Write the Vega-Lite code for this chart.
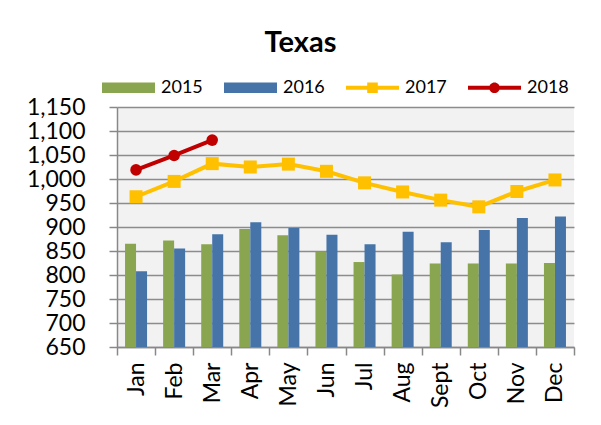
{
  "$schema": "https://vega.github.io/schema/vega-lite/v6.json",
  "width": 457,
  "height": 240,
  "autosize": {"type": "none"},
  "padding": {"left": 117, "top": 107, "right": 27, "bottom": 78},
  "background": "white",
  "title": {"text": "Texas", "fontSize": 29, "font": "Lato", "fontWeight": "bold", "color": "black", "frame": "group", "anchor": "middle", "dx": -45, "offset": 3},
  "config": {"view": {"stroke": null, "fill": "#f2f2f2"}, "font": "Lato"},
  "data": {"values": [
    {"month": "Jan", "year": "2015", "value": 865},
    {"month": "Feb", "year": "2015", "value": 872},
    {"month": "Mar", "year": "2015", "value": 864},
    {"month": "Apr", "year": "2015", "value": 896},
    {"month": "May", "year": "2015", "value": 883},
    {"month": "Jun", "year": "2015", "value": 848},
    {"month": "Jul", "year": "2015", "value": 827},
    {"month": "Aug", "year": "2015", "value": 801},
    {"month": "Sept", "year": "2015", "value": 824},
    {"month": "Oct", "year": "2015", "value": 824},
    {"month": "Nov", "year": "2015", "value": 824},
    {"month": "Dec", "year": "2015", "value": 825},
    {"month": "Jan", "year": "2016", "value": 808},
    {"month": "Feb", "year": "2016", "value": 855},
    {"month": "Mar", "year": "2016", "value": 885},
    {"month": "Apr", "year": "2016", "value": 910},
    {"month": "May", "year": "2016", "value": 898},
    {"month": "Jun", "year": "2016", "value": 884},
    {"month": "Jul", "year": "2016", "value": 864},
    {"month": "Aug", "year": "2016", "value": 890},
    {"month": "Sept", "year": "2016", "value": 868},
    {"month": "Oct", "year": "2016", "value": 894},
    {"month": "Nov", "year": "2016", "value": 919},
    {"month": "Dec", "year": "2016", "value": 922},
    {"month": "Jan", "year": "2017", "value": 963},
    {"month": "Feb", "year": "2017", "value": 995},
    {"month": "Mar", "year": "2017", "value": 1032},
    {"month": "Apr", "year": "2017", "value": 1025},
    {"month": "May", "year": "2017", "value": 1031},
    {"month": "Jun", "year": "2017", "value": 1016},
    {"month": "Jul", "year": "2017", "value": 992},
    {"month": "Aug", "year": "2017", "value": 973},
    {"month": "Sept", "year": "2017", "value": 956},
    {"month": "Oct", "year": "2017", "value": 942},
    {"month": "Nov", "year": "2017", "value": 974},
    {"month": "Dec", "year": "2017", "value": 998},
    {"month": "Jan", "year": "2018", "value": 1019},
    {"month": "Feb", "year": "2018", "value": 1049},
    {"month": "Mar", "year": "2018", "value": 1081}
  ]},
  "encoding": {
    "x": {
      "field": "month", "type": "nominal",
      "sort": ["Jan", "Feb", "Mar", "Apr", "May", "Jun", "Jul", "Aug", "Sept", "Oct", "Nov", "Dec"],
      "scale": {"paddingInner": 0, "paddingOuter": 0},
      "axis": {"title": null, "labelAngle": 270, "labelFontSize": 23, "labelColor": "black", "labelOverlap": false, "tickBand": "extent", "tickSize": 8, "tickColor": "#888888", "tickWidth": 1.5, "domainColor": "#888888", "domainWidth": 1.5, "labelPadding": 7, "grid": false}
    },
    "y": {
      "field": "value", "type": "quantitative",
      "scale": {"domain": [650, 1150], "nice": false, "zero": false},
      "axis": {"title": null, "values": [650, 700, 750, 800, 850, 900, 950, 1000, 1050, 1100, 1150], "format": ",.0f", "labelFontSize": 23, "labelColor": "black", "labelOverlap": false, "labelBound": false, "labelFlush": false, "tickSize": 8, "labelPadding": 24, "gridColor": "#8c8c8c", "gridWidth": 1.5, "domainColor": "#888888", "domainWidth": 1.5, "tickColor": "#888888", "tickWidth": 1.5}
    },
    "color": {
      "field": "year", "type": "nominal",
      "scale": {"domain": ["2015", "2016", "2017", "2018"], "range": ["#8aa54f", "#4674a9", "#ffc000", "#c00000"]},
      "legend": {
        "title": null, "orient": "none", "legendX": -15, "legendY": -46, "direction": "horizontal", "columns": 4,
        "symbolSize": 2809, "labelFontSize": 18, "labelColor": "black", "labelOffset": 6, "columnPadding": 21,
        "encode": {
          "symbols": {
            "update": {
              "shape": {"signal": "datum.value == '2017' ? 'M-1,-0.075H1V0.075H-1Z M-0.2,-0.2H0.2V0.2H-0.2Z' : datum.value == '2018' ? 'M-1,-0.075H1V0.075H-1Z M-0.2,0A0.2,0.2 0 1,1 0.2,0A0.2,0.2 0 1,1 -0.2,0Z' : 'M-1,-0.2H1V0.2H-1Z'"},
              "fill": {"signal": "scale('color', datum.value)"},
              "stroke": {"value": "transparent"},
              "strokeWidth": {"value": 0},
              "opacity": {"value": 1}
            }
          }
        }
      }
    }
  },
  "layer": [
    {
      "transform": [{"filter": "datum.year == '2015' || datum.year == '2016'"}],
      "mark": {"type": "bar"},
      "encoding": {
        "xOffset": {"field": "year", "type": "nominal", "scale": {"paddingInner": 0, "paddingOuter": 0.73}},
        "y2": {"datum": 650}
      }
    },
    {
      "transform": [{"filter": "datum.year == '2017' || datum.year == '2018'"}],
      "mark": {"type": "line", "strokeWidth": 4}
    },
    {
      "transform": [{"filter": "datum.year == '2017'"}],
      "mark": {"type": "point", "shape": "square", "filled": true, "size": 169, "opacity": 1}
    },
    {
      "transform": [{"filter": "datum.year == '2018'"}],
      "mark": {"type": "point", "shape": "circle", "filled": true, "size": 133, "opacity": 1}
    }
  ]
}
